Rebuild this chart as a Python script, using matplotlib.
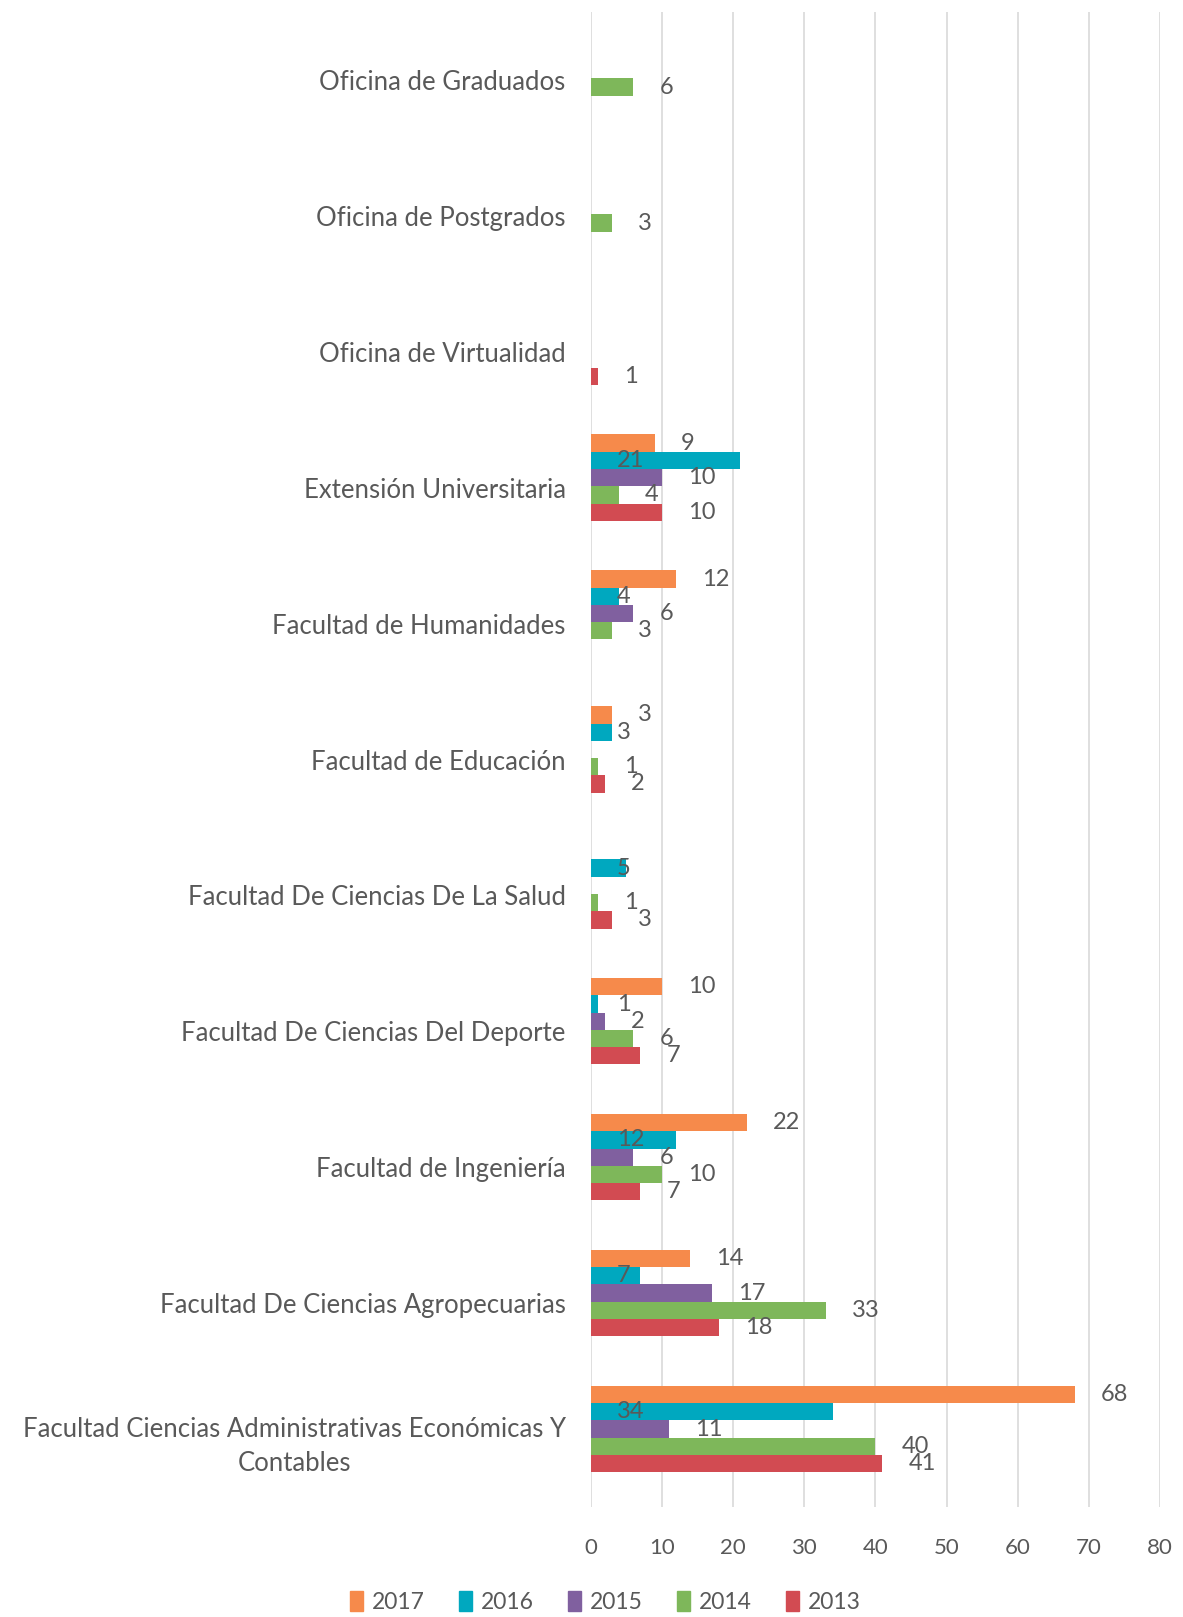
import numpy as np
import matplotlib.pyplot as plt
from matplotlib.patches import Patch

plt.rcParams['font.family'] = ['Lato', 'DejaVu Sans']

categorias = [
    'Facultad Ciencias Administrativas Económicas Y\nContables',
    'Facultad De Ciencias Agropecuarias',
    'Facultad de Ingeniería',
    'Facultad De Ciencias Del Deporte',
    'Facultad De Ciencias De La Salud',
    'Facultad de Educación',
    'Facultad de Humanidades',
    'Extensión Universitaria',
    'Oficina de Virtualidad',
    'Oficina de Postgrados',
    'Oficina de Graduados',
]
nan = np.nan
v2017 = [68, 14, 22, 10, nan, 3, 12, 9, nan, nan, nan]
v2016 = [34, 7, 12, 1, 5, 3, 4, 21, nan, nan, nan]
v2015 = [11, 17, 6, 2, nan, nan, 6, 10, nan, nan, nan]
v2014 = [40, 33, 10, 6, 1, 1, 3, 4, nan, 3, 6]
v2013 = [41, 18, 7, 7, 3, 2, nan, 10, 1, nan, nan]

series = [
    ('2017', v2017, '#F68A4B'),
    ('2016', v2016, '#00A8BF'),
    ('2015', v2015, '#80609F'),
    ('2014', v2014, '#7EB75A'),
    ('2013', v2013, '#D24B52'),
]

gris = '#595959'
fig = plt.figure(figsize=(11.83, 16.17), dpi=100)
ax = fig.add_axes([0.4993, 0.068, 0.4813, 0.9246])

y = np.arange(len(categorias))
h = 0.127
centro = y + 0.074
for k, (nombre, vals, color) in enumerate(series):
    vals = np.array(vals, dtype=float)
    yy = centro + (2 - k) * h
    ax.barh(yy, np.nan_to_num(vals), height=h, color=color, zorder=3)
    for yi, v in zip(yy, vals):
        if np.isnan(v):
            continue
        # las etiquetas de 2016 quedan junto al eje, como en el original
        xpos = 0 if nombre == '2016' else v
        ax.annotate(f'{int(v)}', (xpos, yi), xytext=(26, 0), textcoords='offset pixels',
                    ha='left', va='center', fontsize=17, color=gris, zorder=4)

ax.set_xlim(0, 80)
ax.set_ylim(-0.5, 10.5)
ax.set_xticks(range(0, 81, 10))
ax.set_yticks(y)
ax.set_yticklabels(categorias, fontsize=18.5, color=gris, ha='right',
                   multialignment='center', linespacing=1.45)
ax.tick_params(axis='y', length=0, pad=18)
ax.tick_params(axis='x', length=0, pad=22, labelsize=16, labelcolor=gris)
ax.grid(axis='x', color='#D9D9D9', linewidth=1.2, zorder=0)
for s in ax.spines.values():
    s.set_visible(False)

handles = [Patch(color=c, label=n) for n, _, c in series]
fig.legend(handles=handles, loc='center', bbox_to_anchor=(0.512, 0.0095), ncol=5,
           frameon=False, fontsize=16.5, labelcolor=gris, handlelength=0.55,
           handleheight=1.0, handletextpad=0.4, columnspacing=1.5)

fig.savefig('out.png', dpi=100)
